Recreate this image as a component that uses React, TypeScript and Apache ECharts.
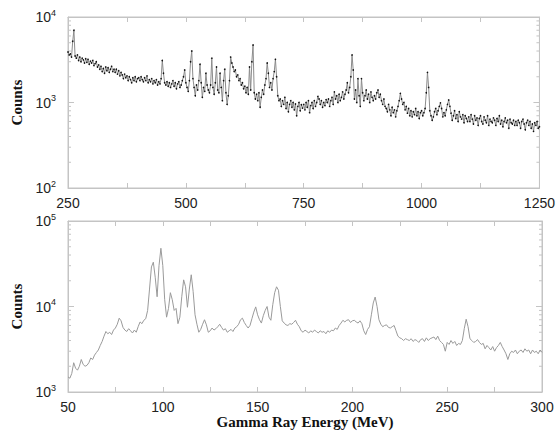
import React, { useEffect, useRef } from "react";
import * as echarts from "echarts";

// Upper spectrum: counts every 2.5 MeV from 250 to 1250 MeV
const TOP_START = 250;
const TOP_STEP = 2.5;
const TOP_COUNTS = [
  3900, 3600, 3700, 3400, 5200, 7000, 3500, 3300, 3600, 3100, 3400, 3000, 3300, 3150, 2900, 3250, 2950, 3200, 2800, 3050,
  2900, 3100, 2700, 2850, 3000, 2600, 2750, 2450, 2650, 2300, 2500, 2200, 2600, 2350, 2550, 2250, 2450, 2650, 2300, 2450,
  2250, 2450, 2150, 2350, 2050, 2250, 2100, 1900, 2150, 1950, 2050, 1800, 2000, 1850, 1700, 1950, 1800, 2000, 1750, 1900,
  1950, 1800, 2000, 1850, 1750, 1950, 1800, 2050, 1700, 1850, 1750, 1900, 1650, 1800, 1700, 1850, 1600, 1750, 1650, 1900,
  3100, 2200, 1700, 1600, 1750, 1550, 1700, 1500, 1650, 1800, 1550, 1700, 1450, 1650, 1750, 1500, 1600, 1800, 2000, 2400,
  1700, 1500, 1350, 1800, 3000, 4000, 1900, 1500, 1200, 1600, 1400, 1800, 2800, 1700, 1150, 1500, 1350, 2200, 1600, 1400,
  1300, 1600, 3300, 1500, 1250, 1700, 2600, 1400, 1300, 2200, 1500, 1050, 1800, 2450, 1300, 950, 1200, 1800, 3400, 2900,
  2600, 2300, 2400, 2000, 2100, 1800, 1900, 1600, 1700, 1450, 1550, 1300, 1500, 1250, 2600, 1400, 3000, 4700, 1300, 1100,
  1250, 1050, 1300, 880, 1150, 1400, 1250, 1600, 1900, 2900, 2200, 1500, 1700, 1400, 1900, 2300, 3200, 2000, 1200, 1050,
  1100, 900, 1050, 950, 1150, 850, 1000, 780, 950, 1050, 880, 1000, 820, 960, 700, 900, 1000, 800, 940, 860,
  950, 820, 1000, 880, 1050, 760, 920, 1000, 850, 1050, 900, 1000, 1180, 1100, 950, 1050, 880, 1000, 920, 1080,
  1000, 1100, 900, 1050, 1150, 950, 1330, 1100, 1200, 1000, 1250, 1050, 1150, 1330, 1100, 1250, 1400, 1700, 1300, 1500,
  2000, 3600, 2400, 1100, 1400, 1000, 1900, 1200, 900, 1900, 1300, 1050, 1200, 1400, 1100, 1250, 1000, 1330, 1150, 1050,
  1200, 1100, 1300, 1400, 1150, 1250, 1050, 950, 1100, 900, 850, 780, 950, 820, 700, 880, 760, 820, 680, 800,
  900, 1050, 1280, 1100, 950, 1000, 820, 900, 750, 850, 700, 800, 680, 780, 720, 850, 700, 780, 650, 760,
  800, 700, 760, 850, 1300, 2250, 1500, 800, 700, 620, 680, 780, 850, 720, 800, 900, 990, 850, 680, 760,
  700, 820, 950, 1070, 900, 750, 620, 700, 800, 650, 720, 600, 780, 680, 640, 720, 580, 700, 650, 600,
  680, 600, 720, 640, 560, 700, 620, 660, 540, 650, 700, 600, 560, 680, 620, 580, 700, 540, 640, 600,
  580, 660, 620, 540, 650, 600, 700, 560, 620, 520, 600, 660, 580, 620, 500, 640, 580, 560, 620, 540,
  600, 540, 620, 580, 500, 600, 640, 560, 480, 580, 620, 540, 600, 500, 560, 460, 580, 540, 600, 500,
  520,
];

// Lower spectrum: counts every 1 MeV from 50 to 300 MeV
const BOTTOM_START = 50;
const BOTTOM_STEP = 1;
const BOTTOM_COUNTS = [
  1500, 1450, 1650, 2200, 1900, 1800, 2000, 2400, 2100, 2000,
  2050, 2200, 2500, 2400, 2700, 2900, 3100, 3500, 3900, 4500,
  5100, 4800, 5000, 4700, 5300, 5600, 6200, 7300, 6800, 5700,
  5300, 5100, 5500, 5200, 4900, 5300, 5000, 5800, 6600, 6300,
  6900, 7200, 9000, 16000, 29000, 33000, 22000, 13000, 30000, 48000,
  30000, 12000, 7500, 9500, 14500, 12000, 9000, 9500, 6300, 7500,
  13000, 20500, 17000, 9800, 16000, 23500, 15000, 8000, 6200, 5000,
  5400, 6200, 7000, 6100, 5000, 5200, 5600, 5300, 5500, 5800,
  6200, 5700, 5300, 5500, 5000, 5200, 5400, 5100, 5600, 5800,
  6200, 7000, 7300, 6500, 6000, 5600, 6000, 7200, 8600, 9900,
  8000, 7000, 6400, 7800, 9000, 10000, 7500, 6900, 10500, 14500,
  17000, 15500, 10000, 6800, 6400, 6100, 6000, 6300, 6200, 6500,
  6900, 6200, 5800, 5200, 5000, 5300, 5100, 4900, 5200, 5000,
  5300, 5100, 4900, 5200, 5000, 5100, 4800, 5200, 5000, 5300,
  5200, 5600, 5400, 6000, 6400, 6900, 6600, 6900, 7000, 6500,
  6800, 6900, 6600, 6400, 6800, 6300, 5200, 4700, 5400, 5800,
  8000, 11000, 12900, 10000, 7000, 6200, 5800, 6000, 6100, 5700,
  5600, 5800, 6000, 5200, 4500, 4300, 4200, 4000, 4200, 4100,
  4000, 4200, 3900, 4100, 4000, 3800, 4100, 4200, 3900, 4300,
  4000, 4200, 4300, 4400, 4100, 4500, 4000, 3800, 3600, 3000,
  3800, 3600, 4000, 3700, 3900, 3500, 3700, 3600, 4000, 5500,
  7100, 5800, 4200, 4000, 3800, 3900, 4100, 3800, 3600, 3700,
  3200, 3500, 3300, 3100, 3400, 3000, 3300, 3500, 3800, 3400,
  3100, 2800, 2400, 2800, 3000, 2900, 3100, 2800, 3000, 3100,
  2900, 3200, 3000, 3100, 2800, 3100, 2900, 3000, 2800, 3100,
  2900,
];

const TOP_X = { min: 250, max: 1250, interval: 250 };
const TOP_Y = { min: 100, max: 10000 };
const BOTTOM_X = { min: 50, max: 300, interval: 50 };
const BOTTOM_Y = { min: 1000, max: 100000 };

const Y_TITLE = "Counts";
const X_TITLE = "Gamma Ray Energy (MeV)";

const FRAME = "#c4c4c4";
const SANS = "'Liberation Sans', Arial, sans-serif";
const SERIF = "'Liberation Serif', 'Times New Roman', serif";

function App() {
  const ref = useRef<HTMLDivElement>(null);

  useEffect(() => {
    if (!ref.current) return;
    const chart = echarts.init(ref.current, null, { renderer: "svg" });

    const topData = TOP_COUNTS.map((v, i) => [TOP_START + i * TOP_STEP, v]);
    const bottomData = BOTTOM_COUNTS.map((v, i) => [BOTTOM_START + i * BOTTOM_STEP, v]);

    const xAxisBase = (ext: any, gridIndex: number, position: string, labels: boolean, name?: string) => ({
      type: "value",
      gridIndex,
      position,
      min: ext.min,
      max: ext.max,
      interval: ext.interval,
      name: name || "",
      nameLocation: "middle",
      nameGap: 21,
      nameTextStyle: { fontFamily: SERIF, fontWeight: "bold", fontSize: 15, color: "#111", verticalAlign: "top" },
      axisLine: { show: true, lineStyle: { color: FRAME, width: 1 } },
      axisTick: { show: true, inside: true, length: 5, lineStyle: { color: FRAME } },
      minorTick: { show: true, splitNumber: 2, length: 5, lineStyle: { color: FRAME } },
      splitLine: { show: false },
      minorSplitLine: { show: false },
      axisLabel: {
        show: labels,
        fontFamily: SANS,
        fontSize: 14,
        color: "#222",
        margin: 8,
        formatter: (v: number) => String(v),
      },
    });

    const labelFmt = (v: number) => `{b|10}{s|${Math.round(Math.log10(v))}}`;

    const yAxisBase = (ext: any, gridIndex: number, position: string, labels: boolean, name?: string) => ({
      type: "log",
      logBase: 10,
      gridIndex,
      position,
      min: ext.min,
      max: ext.max,
      name: name || "",
      nameLocation: "middle",
      nameRotate: 90,
      nameGap: 42,
      nameTextStyle: { fontFamily: SERIF, fontWeight: "bold", fontSize: 15, color: "#111" },
      axisLine: { show: true, lineStyle: { color: FRAME, width: 1 } },
      axisTick: { show: true, inside: true, length: 6, lineStyle: { color: FRAME } },
      splitLine: { show: false },
      axisLabel: {
        show: labels,
        margin: 12,
        formatter: labelFmt,
        rich: {
          b: { fontFamily: SANS, fontSize: 14, color: "#222" },
          s: { fontFamily: SANS, fontSize: 9, color: "#222", padding: [0, 0, 9, 0] },
        },
      },
    });

    const option: any = {
      animation: false,
      backgroundColor: "#ffffff",
      grid: [
        { left: 68, top: 17, width: 474, height: 171, show: true, borderColor: FRAME, borderWidth: 1, backgroundColor: "transparent" },
        { left: 68, top: 221, width: 474, height: 171, show: true, borderColor: FRAME, borderWidth: 1, backgroundColor: "transparent" },
      ],
      xAxis: [
        xAxisBase(TOP_X, 0, "bottom", true),
        xAxisBase(TOP_X, 0, "top", false),
        xAxisBase(BOTTOM_X, 1, "bottom", true, X_TITLE),
        xAxisBase(BOTTOM_X, 1, "top", false),
      ],
      yAxis: [
        yAxisBase(TOP_Y, 0, "left", true, Y_TITLE),
        yAxisBase(TOP_Y, 0, "right", false),
        yAxisBase(BOTTOM_Y, 1, "left", true, Y_TITLE),
        yAxisBase(BOTTOM_Y, 1, "right", false),
      ],
      series: [
        {
          type: "line",
          xAxisIndex: 0,
          yAxisIndex: 0,
          data: topData,
          showSymbol: true,
          showAllSymbol: true,
          symbol: "circle",
          symbolSize: 1.6,
          itemStyle: { color: "#111" },
          lineStyle: { color: "#8c8c8c", width: 1 },
          silent: true,
        },
        {
          type: "line",
          xAxisIndex: 2,
          yAxisIndex: 2,
          data: bottomData,
          showSymbol: false,
          lineStyle: { color: "#9a9a9a", width: 1 },
          silent: true,
        },
      ],
    };

    chart.setOption(option);

    // minor log ticks (2..9 within each decade), positioned through the axis scales
    const graphics: any[] = [];
    const addMinor = (ext: any, xExt: any, xIdx: number, yIdx: number) => {
      const xl = chart.convertToPixel({ xAxisIndex: xIdx } as any, xExt.min) as number;
      const xr = chart.convertToPixel({ xAxisIndex: xIdx } as any, xExt.max) as number;
      for (let d = ext.min; d < ext.max; d *= 10) {
        for (let k = 2; k <= 9; k++) {
          const y = chart.convertToPixel({ yAxisIndex: yIdx } as any, d * k) as number;
          graphics.push({
            type: "line",
            silent: true,
            shape: { x1: xl, y1: y, x2: xl + 3, y2: y },
            style: { stroke: FRAME, lineWidth: 1 },
          });
          graphics.push({
            type: "line",
            silent: true,
            shape: { x1: xr - 3, y1: y, x2: xr, y2: y },
            style: { stroke: FRAME, lineWidth: 1 },
          });
        }
      }
    };
    addMinor(TOP_Y, TOP_X, 0, 0);
    addMinor(BOTTOM_Y, BOTTOM_X, 2, 2);
    chart.setOption({ graphic: graphics });

    return () => chart.dispose();
  }, []);

  return (
    <div
      ref={ref}
      style={{ position: "absolute", left: 0, top: 0, width: 558, height: 436, background: "#fff" }}
    />
  );
}

export default App;
